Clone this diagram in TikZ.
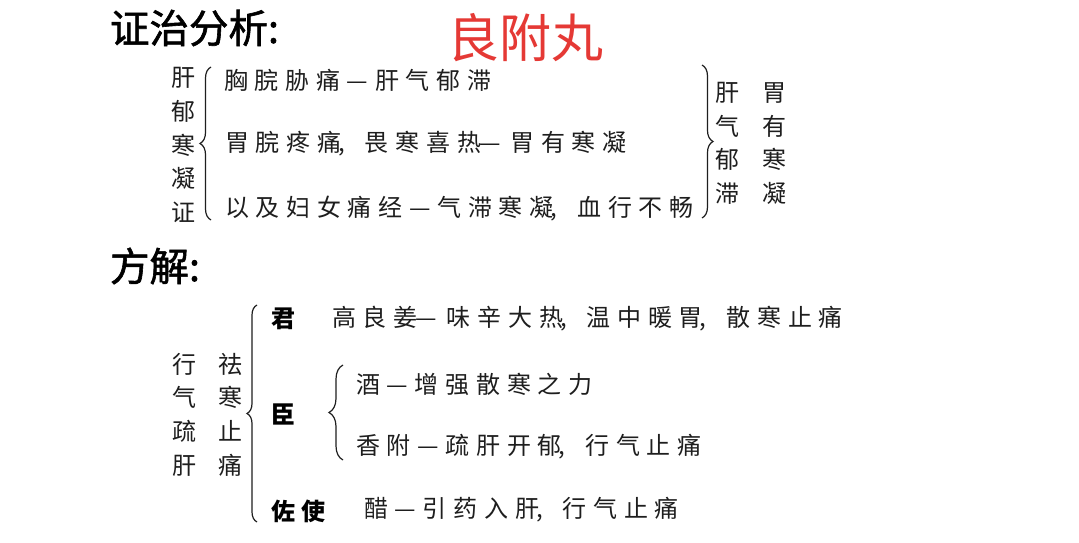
\documentclass[tikz,border=0pt]{standalone}
\usepackage{fontspec}
\usetikzlibrary{decorations.pathreplacing}
\newfontfamily\cjk[LetterSpace=28]{Noto Sans CJK SC}
\newfontfamily\cjkp{Noto Sans CJK SC}
\newfontfamily\cjkh[FakeBold=1.5]{Noto Sans CJK SC}
\definecolor{ink}{HTML}{1E1E1E}
\definecolor{redt}{HTML}{E53935}
\newcommand\cma{\kern-3pt,\kern8pt\ }
\newcommand\dsh{\kern-1.5pt—\kern9.5pt}
\begin{document}
\begin{tikzpicture}[x=1pt,y=-1pt,
  every node/.style={inner sep=0pt, outer sep=0pt},
  head/.style={font=\cjkh\fontsize{39.5}{42}\selectfont, anchor=west, text=black},
  body/.style={font=\cjk\fontsize{24}{28}\selectfont, anchor=west, text=ink},
  colm/.style={font=\cjkp\fontsize{24}{33.6}\selectfont, align=center, text=ink},
  role/.style={font=\cjk\bfseries\fontsize{24}{28}\selectfont, anchor=west, text=black},
  brc/.style={draw=ink, line width=1.2pt, decorate, decoration={brace, amplitude=#1}}
]
\useasboundingbox[fill=white] (0,0) rectangle (1079,543);

\node[head] (t1) at (110,28) {证治分析:};
\node[font=\cjkp\fontsize{52}{56}\selectfont, text=redt] (t2) at (525,38) {良附丸};

\node[colm] (c1) at (183,145) {肝\\郁\\寒\\凝\\证};
\coordinate (b1a) at (211,220);
\coordinate (b1b) at (211,67);
\draw[brc=11pt] (b1a) -- (b1b);

\node[body] (l1) at (224,80) {胸脘胁痛—肝气郁滞};
\node[body] (l2) at (225,144) {胃脘疼痛\cma 畏寒喜热\dsh 胃有寒凝};
\node[body] (l3) at (225,209) {以及妇女痛经—气滞寒凝\cma 血行不畅};

\coordinate (b2a) at (702,65);
\coordinate (b2b) at (702,218);
\draw[brc=11pt] (b2a) -- (b2b);
\node[colm] (c2) at (727,143.5) {肝\\气\\郁\\滞};
\node[colm] (c3) at (774,143.5) {胃\\有\\寒\\凝};

\node[head] (t3) at (110,266) {方解:};

\node[colm] (c4) at (184,414.5) {行\\气\\疏\\肝};
\node[colm] (c5) at (230,414.5) {祛\\寒\\止\\痛};
\coordinate (b3a) at (257,522);
\coordinate (b3b) at (257,305);
\draw[brc=10pt] (b3a) -- (b3b);

\node[role] (r1) at (271,319) {君};
\node[body] (m1) at (332,319) {高良姜\dsh 味辛大热\cma 温中暖胃\cma 散寒止痛};
\node[role] (r2) at (271,414) {臣};
\coordinate (b4a) at (343,460);
\coordinate (b4b) at (343,365);
\draw[brc=14pt] (b4a) -- (b4b);
\node[body] (m2) at (356,384) {酒—增强散寒之力};
\node[body] (m3) at (356,447) {香附—疏肝开郁\cma 行气止痛};
\node[role] (r3) at (271,511) {佐使};
\node[body] (m4) at (364,510) {醋—引药入肝\cma 行气止痛};
\end{tikzpicture}
\end{document}
